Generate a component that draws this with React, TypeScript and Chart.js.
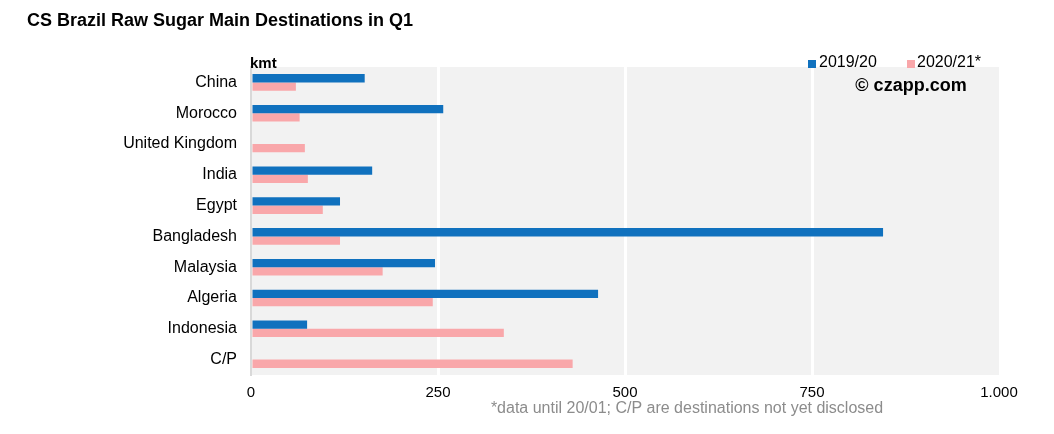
import React, { useEffect, useRef } from "react";
import { Chart, registerables } from "chart.js";

Chart.register(...registerables);

const categories = ["China", "Morocco", "United Kingdom", "India", "Egypt", "Bangladesh", "Malaysia", "Algeria", "Indonesia", "C/P"];
const series1Label = "2019/20";
const series2Label = "2020/21*";
const series1 = [152, 257, 0, 162, 119, 845, 246, 464, 75, 0];
const series2 = [60, 65, 72, 76, 96, 119, 176, 243, 338, 430];
const xTicks = [0, 250, 500, 750, 1000];

const BLUE = "#1071BE";
const PINK = "#F9A7AA";
const FONT = "'Liberation Sans', Arial, sans-serif";

const fmt = (v: number) => String(v).replace(/\B(?=(\d{3})+(?!\d))/g, ".");

export default function App() {
  const ref = useRef<HTMLCanvasElement | null>(null);
  useEffect(() => {
    document.body.style.margin = "0";
    const canvas = ref.current!;
    const decor = {
      id: "decor",
      beforeDraw(chart: any) {
        const { ctx, chartArea } = chart;
        ctx.save();
        ctx.fillStyle = "#F2F2F2";
        ctx.fillRect(chartArea.left, chartArea.top, chartArea.right - chartArea.left, chartArea.bottom - chartArea.top);
        ctx.restore();
      },
      afterDraw(chart: any) {
        const { ctx } = chart;
        ctx.save();
        ctx.fillStyle = "#000";
        ctx.textBaseline = "middle";
        ctx.textAlign = "left";
        ctx.font = `bold 18px ${FONT}`;
        ctx.fillText("CS Brazil Raw Sugar Main Destinations in Q1", 27, 21);
        ctx.font = `bold 15px ${FONT}`;
        ctx.fillText("kmt", 250, 64);
        // legend
        ctx.font = `16px ${FONT}`;
        ctx.fillStyle = BLUE;
        ctx.fillRect(808, 60, 8, 8);
        ctx.fillStyle = "#000";
        ctx.fillText(series1Label, 819, 63);
        ctx.fillStyle = PINK;
        ctx.fillRect(907, 60, 8, 8);
        ctx.fillStyle = "#000";
        ctx.fillText(series2Label, 917, 63);
        // watermark
        ctx.font = `bold 18px ${FONT}`;
        ctx.textAlign = "center";
        ctx.fillText("© czapp.com", 911, 86);
        // footnote
        ctx.font = `16px ${FONT}`;
        ctx.fillStyle = "#8C8C8C";
        ctx.fillText("*data until 20/01; C/P are destinations not yet disclosed", 687, 409);
        ctx.restore();
      },
    };
    const chart = new Chart(canvas, {
      type: "bar",
      data: {
        labels: categories,
        datasets: [
          { label: series1Label, data: series1, backgroundColor: BLUE, categoryPercentage: 0.54, barPercentage: 1.0 },
          { label: series2Label, data: series2, backgroundColor: PINK, categoryPercentage: 0.54, barPercentage: 1.0 },
        ],
      },
      options: {
        indexAxis: "y",
        animation: false,
        responsive: false,
        layout: { padding: { top: 67, right: 55, left: 0, bottom: 0 } },
        plugins: { legend: { display: false }, title: { display: false }, tooltip: { enabled: false } },
        scales: {
          x: {
            min: 0,
            max: 1000,
            afterBuildTicks: (s: any) => { s.ticks = xTicks.map((v) => ({ value: v })); },
            afterFit: (s: any) => { s.height = 59; },
            ticks: { color: "#000", font: { family: FONT, size: 15 }, padding: 9, callback: (v: any) => fmt(Number(v)), maxRotation: 0 },
            grid: { color: (c: any) => (c.tick && (c.tick.value === 0 || c.tick.value === 1000) ? "rgba(0,0,0,0)" : "#FFFFFF"), lineWidth: 3, drawTicks: false },
            border: { display: false },
          },
          y: {
            afterFit: (s: any) => { s.width = 251; },
            ticks: { color: "#000", font: { family: FONT, size: 16 }, padding: 14 },
            grid: { display: false, drawTicks: false },
            border: { display: true, color: "#D9D9D9", width: 2 },
          },
        },
      },
      plugins: [decor],
    });
    return () => chart.destroy();
  }, []);
  return (
    <div style={{ width: 1054, height: 434 }}>
      <canvas ref={ref} width={1054} height={434} />
    </div>
  );
}
